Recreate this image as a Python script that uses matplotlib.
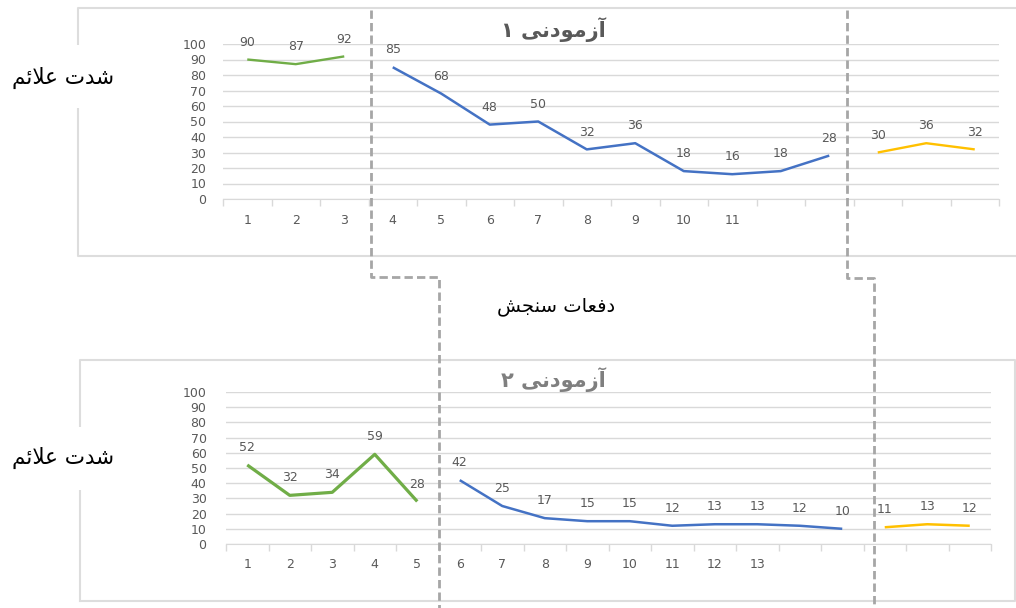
import matplotlib

matplotlib.use("Agg")
import numpy as np
import matplotlib.pyplot as plt
from matplotlib.lines import Line2D
from matplotlib.patches import Rectangle

W, H = 1016, 608

# subject 1: baseline / treatment / follow-up symptom severity
S1_BASELINE = [90, 87, 92]
S1_TREATMENT = [85, 68, 48, 50, 32, 36, 18, 16, 18, 28]
S1_FOLLOWUP = [30, 36, 32]
S1_TICKS = ["1", "2", "3", "4", "5", "6", "7", "8", "9", "10", "11"]

# subject 2
S2_BASELINE = [52, 32, 34, 59, 28]
S2_TREATMENT = [42, 25, 17, 15, 15, 12, 13, 13, 12, 10]
S2_FOLLOWUP = [11, 13, 12]
S2_TICKS = ["1", "2", "3", "4", "5", "6", "7", "8", "9", "10", "11", "12", "13"]

# Persian strings written in presentation forms, visual order
# (matplotlib does no Arabic shaping / bidi)
TITLE_1 = "\u06F1 \uFBFD\uFEE7\uFEA9\uFEEE\uFEE3\uFEAF\uFE81"  # آزمودنی ۱
TITLE_2 = "\u06F2 \uFBFD\uFEE7\uFEA9\uFEEE\uFEE3\uFEAF\uFE81"  # آزمودنی ۲
Y_LABEL = "\uFEE2\uFE8B\uFEFC\uFECB \uFE95\uFEAA\uFEB7"  # شدت علائم
X_LABEL = "\uFEB6\uFEA0\uFEE8\uFEB3 \uFE95\uFE8E\uFECC\uFED3\uFEA9"  # دفعات سنجش

GREEN = "#70AD47"
BLUE = "#4472C4"
YELLOW = "#FFC000"
GRID = "#D9D9D9"
LABEL_GRAY = "#595959"


def px(x, y):
    return x / W, 1 - y / H


def draw_panel(ax, phases, ticks, xpad, ypad):
    start = 0
    for values, color, lw in phases:
        xs = np.arange(start, start + len(values))
        ax.plot(xs, values, color=color, lw=lw, solid_capstyle="butt", solid_joinstyle="round")
        for xi, v in zip(xs, values):
            ax.annotate(str(v), (xi, v), xytext=(0, 12.5), textcoords="offset points",
                        ha="center", va="center", fontsize=9, color=LABEL_GRAY)
        start += len(values)
    ax.set_xlim(-0.5, start - 0.5)
    ax.set_ylim(0, 100)
    ax.set_yticks(range(0, 101, 10))
    ax.yaxis.grid(True, color=GRID, lw=1)
    ax.set_axisbelow(True)
    for side in ("top", "right", "left"):
        ax.spines[side].set_visible(False)
    ax.spines["bottom"].set_color(GRID)
    ax.set_xticks(range(len(ticks)), ticks)
    ax.set_xticks(np.arange(-0.5, start), minor=True)
    ax.tick_params(axis="x", which="major", length=0, pad=xpad, labelsize=9, labelcolor=LABEL_GRAY)
    ax.tick_params(axis="x", which="minor", length=5, color=GRID, width=1)
    ax.tick_params(axis="y", length=0, pad=ypad, labelsize=9, labelcolor=LABEL_GRAY)
    ax.patch.set_alpha(0)


def fig_line(fig, pts, **kw):
    xs = [px(x, y)[0] for x, y in pts]
    ys = [px(x, y)[1] for x, y in pts]
    fig.add_artist(Line2D(xs, ys, transform=fig.transFigure, **kw))


def main():
    fig = plt.figure(figsize=(W / 100, H / 100), dpi=100)

    # chart frames
    fig_line(fig, [(1016, 8), (78, 8), (78, 256), (1016, 256)], color="#DDDDDD", lw=1.5, zorder=1)
    fig_line(fig, [(80, 601), (80, 360), (1015, 360), (1015, 601), (80, 601)], color="#DDDDDD", lw=1.5, zorder=1)

    ax1 = fig.add_axes([223 / W, 1 - 199 / H, 776 / W, 155 / H])
    draw_panel(ax1, [(S1_BASELINE, GREEN, 1.7), (S1_TREATMENT, BLUE, 1.8), (S1_FOLLOWUP, YELLOW, 1.7)],
               S1_TICKS, xpad=10.5, ypad=12)

    ax2 = fig.add_axes([226 / W, 1 - 544 / H, 765 / W, 152 / H])
    draw_panel(ax2, [(S2_BASELINE, GREEN, 2.3), (S2_TREATMENT, BLUE, 1.8), (S2_FOLLOWUP, YELLOW, 1.8)],
               S2_TICKS, xpad=10, ypad=14)

    # phase separators
    dash = dict(color="#A6A6A6", lw=2, linestyle=(0, (3, 1.5)), zorder=3)
    fig_line(fig, [(371, 10), (371, 277), (439, 277), (439, 608)], **dash)
    fig_line(fig, [(847, 10), (847, 278), (874, 278), (874, 608)], **dash)

    # white boxes behind the y labels
    for y0, y1 in ((45, 108), (427, 490)):
        x0, b = px(0, y1)
        fig.add_artist(Rectangle((x0, b), 125 / W, (y1 - y0) / H, transform=fig.transFigure,
                                 facecolor="white", edgecolor="none", zorder=4))

    fig.text(*px(553, 30), TITLE_1, ha="center", va="center", fontsize=15, fontweight="bold",
             color=LABEL_GRAY, zorder=5)
    fig.text(*px(553, 380), TITLE_2, ha="center", va="center", fontsize=15, fontweight="bold",
             color="#7F7F7F", zorder=5)
    fig.text(*px(63, 78), Y_LABEL, ha="center", va="center", fontsize=15.5, color="black", zorder=5)
    fig.text(*px(63, 458), Y_LABEL, ha="center", va="center", fontsize=15.5, color="black", zorder=5)
    fig.text(*px(556, 306), X_LABEL, ha="center", va="center", fontsize=14, color="black", zorder=5)

    fig.savefig("out.png", dpi=100)


if __name__ == "__main__":
    main()
